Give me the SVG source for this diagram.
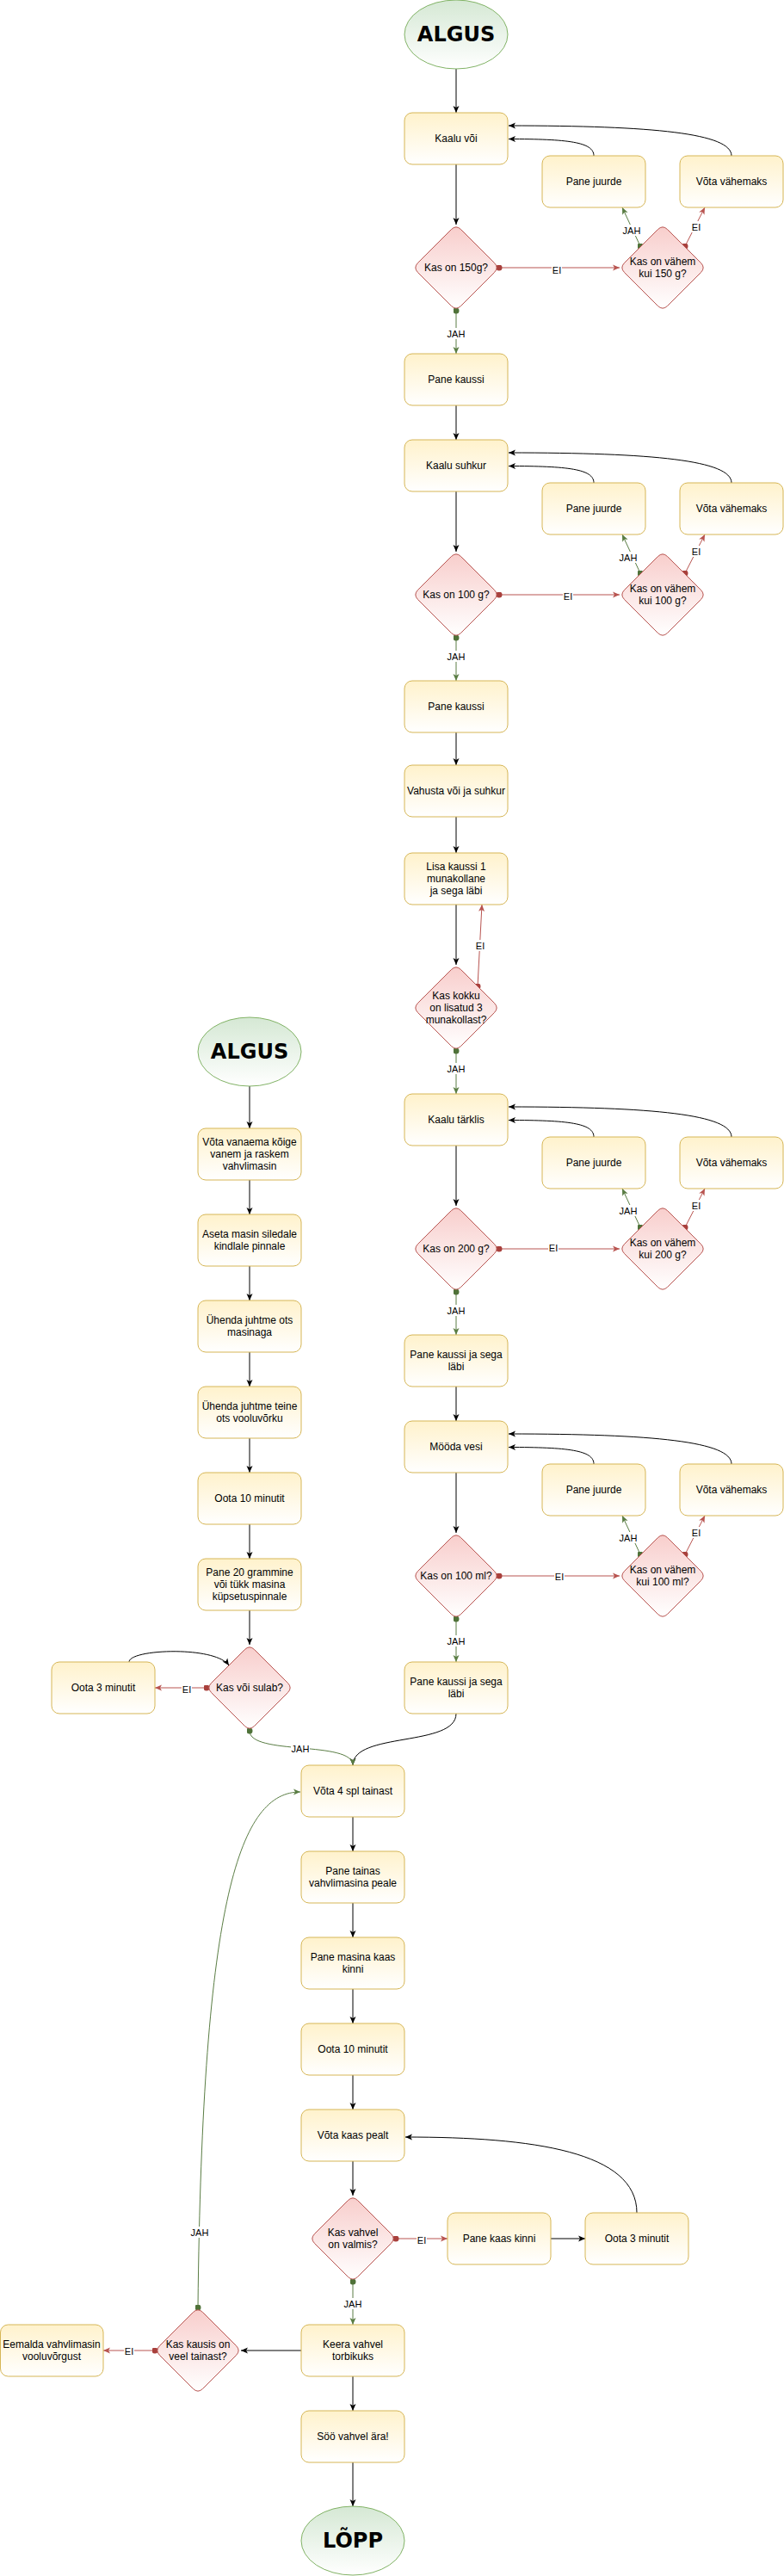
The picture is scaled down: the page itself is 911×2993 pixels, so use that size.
<svg xmlns="http://www.w3.org/2000/svg" xmlns:xlink="http://www.w3.org/1999/xlink" width="911" height="2993" viewBox="0 0 911 2993">
<defs>
<linearGradient id="gy" x1="0" y1="0" x2="0" y2="1"><stop offset="0" stop-color="#fff2cc"/><stop offset="1" stop-color="#ffffff"/></linearGradient>
<linearGradient id="gr" x1="0" y1="0" x2="0" y2="1"><stop offset="0" stop-color="#f8cecc"/><stop offset="1" stop-color="#ffffff"/></linearGradient>
<linearGradient id="gg" x1="0" y1="0" x2="0" y2="1"><stop offset="0" stop-color="#d5e8d4"/><stop offset="1" stop-color="#ffffff"/></linearGradient>
<path id="dia" d="M5.66,-44.34 L44.34,-5.66 Q50,0 44.34,5.66 L5.66,44.34 Q0,50 -5.66,44.34 L-44.34,5.66 Q-50,0 -44.34,-5.66 L-5.66,-44.34 Q0,-50 5.66,-44.34 Z"/>
<marker id="ab" viewBox="0 0 8 8" refX="8" refY="4" markerWidth="8" markerHeight="8" markerUnits="userSpaceOnUse" orient="auto"><path d="M0,0.5 L8,4 L0,7.5 L2,4 Z" fill="#000"/></marker>
<marker id="ag" viewBox="0 0 8 8" refX="8" refY="4" markerWidth="8" markerHeight="8" markerUnits="userSpaceOnUse" orient="auto"><path d="M0,0.5 L8,4 L0,7.5 L2,4 Z" fill="#5a7d44"/></marker>
<marker id="ar" viewBox="0 0 8 8" refX="8" refY="4" markerWidth="8" markerHeight="8" markerUnits="userSpaceOnUse" orient="auto"><path d="M0,0.5 L8,4 L0,7.5 L2,4 Z" fill="#b85450"/></marker>
<marker id="dg" viewBox="0 0 8 8" refX="4" refY="4" markerWidth="7" markerHeight="7" markerUnits="userSpaceOnUse"><circle cx="4" cy="4" r="4" fill="#4f7239"/></marker>
<marker id="dr" viewBox="0 0 8 8" refX="4" refY="4" markerWidth="7" markerHeight="7" markerUnits="userSpaceOnUse"><circle cx="4" cy="4" r="4" fill="#a8403c"/></marker>
</defs>
<style>
.n rect{fill:url(#gy);stroke:#d6b656;stroke-width:1}
.d use{fill:url(#gr);stroke:#b85450;stroke-width:1}
.e ellipse{fill:url(#gg);stroke:#82b366;stroke-width:1}
text{font-family:"Liberation Sans",Arial,sans-serif;font-size:12px;text-anchor:middle;fill:#000}
text.big{font-family:"DejaVu Sans",Verdana,sans-serif;font-size:24px;font-weight:bold}
text.lbl{font-size:11px}
.lb{fill:#ffffff}
#connectors path{fill:none;stroke-width:1}
#connectors .k{stroke:#000;marker-end:url(#ab)}
#connectors .g{stroke:#5a7d44;marker-end:url(#ag);marker-start:url(#dg)}
#connectors .r{stroke:#b85450;marker-end:url(#ar);marker-start:url(#dr)}
</style>
<rect x="0" y="0" width="911" height="2993" fill="#ffffff"/>
<g id="connectors">
<path class="k" d="M530,80 V131"/>
<path class="k" d="M530,191 V261"/>
<path class="k" d="M530,471 V511"/>
<path class="k" d="M530,571 V641"/>
<path class="k" d="M530,851 V889"/>
<path class="k" d="M530,949 V991"/>
<path class="k" d="M530,1051 V1121"/>
<path class="k" d="M530,1331 V1401"/>
<path class="k" d="M530,1611 V1651"/>
<path class="k" d="M530,1711 V1781"/>
<path class="k" d="M290,1262 V1311"/>
<path class="k" d="M290,1371 V1411"/>
<path class="k" d="M290,1471 V1511"/>
<path class="k" d="M290,1571 V1611"/>
<path class="k" d="M290,1671 V1711"/>
<path class="k" d="M290,1771 V1811"/>
<path class="k" d="M290,1871 V1911"/>
<path class="k" d="M410,2111 V2151"/>
<path class="k" d="M410,2211 V2251"/>
<path class="k" d="M410,2311 V2351"/>
<path class="k" d="M410,2411 V2451"/>
<path class="k" d="M410,2511 V2551"/>
<path class="k" d="M640,2601 H680"/>
<path class="k" d="M350,2731 H280"/>
<path class="k" d="M410,2761 V2801"/>
<path class="k" d="M410,2861 V2912"/>
<path class="k" d="M690,181 C690,165 660,161.5 591,161.5"/>
<path class="k" d="M850,181 C850,155 760,146 591,146"/>
<path class="k" d="M690,561 C690,545 660,541.5 591,541.5"/>
<path class="k" d="M850,561 C850,535 760,526 591,526"/>
<path class="k" d="M690,1321 C690,1305 660,1301.5 591,1301.5"/>
<path class="k" d="M850,1321 C850,1295 760,1286 591,1286"/>
<path class="k" d="M690,1701 C690,1685 660,1681.5 591,1681.5"/>
<path class="k" d="M850,1701 C850,1675 760,1666 591,1666"/>
<path class="k" d="M530,1991 C530,2030 410,2012 410,2051"/>
<path class="k" d="M150,1931 C150,1916 250,1912 266,1935"/>
<path class="k" d="M740,2571 C740,2500 620,2483 471,2483"/>
<path class="r" d="M580,311 H720"/>
<path class="r" d="M580,691 H720"/>
<path class="r" d="M580,1451 H720"/>
<path class="r" d="M580,1831 H720"/>
<path class="r" d="M796,286 L819,241"/>
<path class="r" d="M796,666 L819,621"/>
<path class="r" d="M796,1426 L819,1381"/>
<path class="r" d="M796,1806 L819,1761"/>
<path class="r" d="M555,1146 L560,1051"/>
<path class="r" d="M240,1961 H180"/>
<path class="r" d="M460,2601 H520"/>
<path class="r" d="M180,2731 H120"/>
<path class="g" d="M530,361 V411"/>
<path class="g" d="M530,741 V791"/>
<path class="g" d="M530,1221 V1271"/>
<path class="g" d="M530,1501 V1551"/>
<path class="g" d="M530,1881 V1931"/>
<path class="g" d="M744,286 L723,241"/>
<path class="g" d="M744,666 L723,621"/>
<path class="g" d="M744,1426 L723,1381"/>
<path class="g" d="M744,1806 L723,1761"/>
<path class="g" d="M290,2011 C290,2040 410,2022 410,2051"/>
<path class="g" d="M410,2651 V2701"/>
<path class="g" d="M230,2681 C235,2200 280,2082 349,2082"/>
<g id="labels">
<rect class="lb" x="641" y="307" width="12" height="13"/><text class="lbl" x="647" y="318">EI</text>
<rect class="lb" x="654" y="686" width="12" height="13"/><text class="lbl" x="660" y="697">EI</text>
<rect class="lb" x="637" y="1443" width="12" height="13"/><text class="lbl" x="643" y="1454">EI</text>
<rect class="lb" x="644" y="1825" width="12" height="13"/><text class="lbl" x="650" y="1836">EI</text>
<rect class="lb" x="803" y="257" width="12" height="13"/><text class="lbl" x="809" y="268">EI</text>
<rect class="lb" x="803" y="634" width="12" height="13"/><text class="lbl" x="809" y="645">EI</text>
<rect class="lb" x="803" y="1394" width="12" height="13"/><text class="lbl" x="809" y="1405">EI</text>
<rect class="lb" x="803" y="1774" width="12" height="13"/><text class="lbl" x="809" y="1785">EI</text>
<rect class="lb" x="552" y="1092" width="12" height="13"/><text class="lbl" x="558" y="1103">EI</text>
<rect class="lb" x="211" y="1956" width="12" height="13"/><text class="lbl" x="217" y="1967">EI</text>
<rect class="lb" x="484" y="2596" width="12" height="13"/><text class="lbl" x="490" y="2607">EI</text>
<rect class="lb" x="144" y="2725" width="12" height="13"/><text class="lbl" x="150" y="2736">EI</text>
<rect class="lb" x="519" y="381" width="22" height="13"/><text class="lbl" x="530" y="392">JAH</text>
<rect class="lb" x="519" y="756" width="22" height="13"/><text class="lbl" x="530" y="767">JAH</text>
<rect class="lb" x="519" y="1235" width="22" height="13"/><text class="lbl" x="530" y="1246">JAH</text>
<rect class="lb" x="519" y="1516" width="22" height="13"/><text class="lbl" x="530" y="1527">JAH</text>
<rect class="lb" x="519" y="1900" width="22" height="13"/><text class="lbl" x="530" y="1911">JAH</text>
<rect class="lb" x="723" y="261" width="22" height="13"/><text class="lbl" x="734" y="272">JAH</text>
<rect class="lb" x="719" y="641" width="22" height="13"/><text class="lbl" x="730" y="652">JAH</text>
<rect class="lb" x="719" y="1400" width="22" height="13"/><text class="lbl" x="730" y="1411">JAH</text>
<rect class="lb" x="719" y="1780" width="22" height="13"/><text class="lbl" x="730" y="1791">JAH</text>
<rect class="lb" x="338" y="2025" width="22" height="13"/><text class="lbl" x="349" y="2036">JAH</text>
<rect class="lb" x="399" y="2670" width="22" height="13"/><text class="lbl" x="410" y="2681">JAH</text>
<rect class="lb" x="221" y="2587" width="22" height="13"/><text class="lbl" x="232" y="2598">JAH</text>
</g>
</g>
<g id="n-algus-1" class="e"><ellipse cx="530" cy="40" rx="60" ry="40"/><text class="big" x="530" y="48">ALGUS</text></g>
<g id="n-kaalu-voi" class="n"><rect x="470" y="131" width="120" height="60" rx="9"/><text x="530" y="165">Kaalu või</text></g>
<g id="n-pane-juurde-1" class="n"><rect x="630" y="181" width="120" height="60" rx="9"/><text x="690" y="215">Pane juurde</text></g>
<g id="n-vota-vahemaks-1" class="n"><rect x="790" y="181" width="120" height="60" rx="9"/><text x="850" y="215">Võta vähemaks</text></g>
<g id="n-kas-150" class="d"><use xlink:href="#dia" href="#dia" x="530" y="311"/><text x="530" y="315">Kas on 150g?</text></g>
<g id="n-kas-vahem-150" class="d"><use xlink:href="#dia" href="#dia" x="770" y="311"/><text x="770" y="308">Kas on vähem</text><text x="770" y="322">kui 150 g?</text></g>
<g id="n-pane-kaussi-1" class="n"><rect x="470" y="411" width="120" height="60" rx="9"/><text x="530" y="445">Pane kaussi</text></g>
<g id="n-kaalu-suhkur" class="n"><rect x="470" y="511" width="120" height="60" rx="9"/><text x="530" y="545">Kaalu suhkur</text></g>
<g id="n-pane-juurde-2" class="n"><rect x="630" y="561" width="120" height="60" rx="9"/><text x="690" y="595">Pane juurde</text></g>
<g id="n-vota-vahemaks-2" class="n"><rect x="790" y="561" width="120" height="60" rx="9"/><text x="850" y="595">Võta vähemaks</text></g>
<g id="n-kas-100g" class="d"><use xlink:href="#dia" href="#dia" x="530" y="691"/><text x="530" y="695">Kas on 100 g?</text></g>
<g id="n-kas-vahem-100g" class="d"><use xlink:href="#dia" href="#dia" x="770" y="691"/><text x="770" y="688">Kas on vähem</text><text x="770" y="702">kui 100 g?</text></g>
<g id="n-pane-kaussi-2" class="n"><rect x="470" y="791" width="120" height="60" rx="9"/><text x="530" y="825">Pane kaussi</text></g>
<g id="n-vahusta" class="n"><rect x="470" y="889" width="120" height="60" rx="9"/><text x="530" y="923">Vahusta või ja suhkur</text></g>
<g id="n-lisa-kaussi" class="n"><rect x="470" y="991" width="120" height="60" rx="9"/><text x="530" y="1011">Lisa kaussi 1</text><text x="530" y="1025">munakollane</text><text x="530" y="1039">ja sega läbi</text></g>
<g id="n-kas-kokku" class="d"><use xlink:href="#dia" href="#dia" x="530" y="1171"/><text x="530" y="1161">Kas kokku</text><text x="530" y="1175">on lisatud 3</text><text x="530" y="1189">munakollast?</text></g>
<g id="n-kaalu-tarklis" class="n"><rect x="470" y="1271" width="120" height="60" rx="9"/><text x="530" y="1305">Kaalu tärklis</text></g>
<g id="n-pane-juurde-3" class="n"><rect x="630" y="1321" width="120" height="60" rx="9"/><text x="690" y="1355">Pane juurde</text></g>
<g id="n-vota-vahemaks-3" class="n"><rect x="790" y="1321" width="120" height="60" rx="9"/><text x="850" y="1355">Võta vähemaks</text></g>
<g id="n-kas-200g" class="d"><use xlink:href="#dia" href="#dia" x="530" y="1451"/><text x="530" y="1455">Kas on 200 g?</text></g>
<g id="n-kas-vahem-200g" class="d"><use xlink:href="#dia" href="#dia" x="770" y="1451"/><text x="770" y="1448">Kas on vähem</text><text x="770" y="1462">kui 200 g?</text></g>
<g id="n-pane-kaussi-sega-1" class="n"><rect x="470" y="1551" width="120" height="60" rx="9"/><text x="530" y="1578">Pane kaussi ja sega</text><text x="530" y="1592">läbi</text></g>
<g id="n-mooda-vesi" class="n"><rect x="470" y="1651" width="120" height="60" rx="9"/><text x="530" y="1685">Mööda vesi</text></g>
<g id="n-pane-juurde-4" class="n"><rect x="630" y="1701" width="120" height="60" rx="9"/><text x="690" y="1735">Pane juurde</text></g>
<g id="n-vota-vahemaks-4" class="n"><rect x="790" y="1701" width="120" height="60" rx="9"/><text x="850" y="1735">Võta vähemaks</text></g>
<g id="n-kas-100ml" class="d"><use xlink:href="#dia" href="#dia" x="530" y="1831"/><text x="530" y="1835">Kas on 100 ml?</text></g>
<g id="n-kas-vahem-100ml" class="d"><use xlink:href="#dia" href="#dia" x="770" y="1831"/><text x="770" y="1828">Kas on vähem</text><text x="770" y="1842">kui 100 ml?</text></g>
<g id="n-pane-kaussi-sega-2" class="n"><rect x="470" y="1931" width="120" height="60" rx="9"/><text x="530" y="1958">Pane kaussi ja sega</text><text x="530" y="1972">läbi</text></g>
<g id="n-algus-2" class="e"><ellipse cx="290" cy="1222" rx="60" ry="40"/><text class="big" x="290" y="1230">ALGUS</text></g>
<g id="n-vota-vanaema" class="n"><rect x="230" y="1311" width="120" height="60" rx="9"/><text x="290" y="1331">Võta vanaema kõige</text><text x="290" y="1345">vanem ja raskem</text><text x="290" y="1359">vahvlimasin</text></g>
<g id="n-aseta-masin" class="n"><rect x="230" y="1411" width="120" height="60" rx="9"/><text x="290" y="1438">Aseta masin siledale</text><text x="290" y="1452">kindlale pinnale</text></g>
<g id="n-uhenda-1" class="n"><rect x="230" y="1511" width="120" height="60" rx="9"/><text x="290" y="1538">Ühenda juhtme ots</text><text x="290" y="1552">masinaga</text></g>
<g id="n-uhenda-2" class="n"><rect x="230" y="1611" width="120" height="60" rx="9"/><text x="290" y="1638">Ühenda juhtme teine</text><text x="290" y="1652">ots vooluvõrku</text></g>
<g id="n-oota-10-1" class="n"><rect x="230" y="1711" width="120" height="60" rx="9"/><text x="290" y="1745">Oota 10 minutit</text></g>
<g id="n-pane-20" class="n"><rect x="230" y="1811" width="120" height="60" rx="9"/><text x="290" y="1831">Pane 20 grammine</text><text x="290" y="1845">või tükk masina</text><text x="290" y="1859">küpsetuspinnale</text></g>
<g id="n-kas-sulab" class="d"><use xlink:href="#dia" href="#dia" x="290" y="1961"/><text x="290" y="1965">Kas või sulab?</text></g>
<g id="n-oota-3-1" class="n"><rect x="60" y="1931" width="120" height="60" rx="9"/><text x="120" y="1965">Oota 3 minutit</text></g>
<g id="n-vota-4-spl" class="n"><rect x="350" y="2051" width="120" height="60" rx="9"/><text x="410" y="2085">Võta 4 spl tainast</text></g>
<g id="n-pane-tainas" class="n"><rect x="350" y="2151" width="120" height="60" rx="9"/><text x="410" y="2178">Pane tainas</text><text x="410" y="2192">vahvlimasina peale</text></g>
<g id="n-pane-masina-kaas" class="n"><rect x="350" y="2251" width="120" height="60" rx="9"/><text x="410" y="2278">Pane masina kaas</text><text x="410" y="2292">kinni</text></g>
<g id="n-oota-10-2" class="n"><rect x="350" y="2351" width="120" height="60" rx="9"/><text x="410" y="2385">Oota 10 minutit</text></g>
<g id="n-vota-kaas" class="n"><rect x="350" y="2451" width="120" height="60" rx="9"/><text x="410" y="2485">Võta kaas pealt</text></g>
<g id="n-kas-valmis" class="d"><use xlink:href="#dia" href="#dia" x="410" y="2601"/><text x="410" y="2598">Kas vahvel</text><text x="410" y="2612">on valmis?</text></g>
<g id="n-pane-kaas-kinni" class="n"><rect x="520" y="2571" width="120" height="60" rx="9"/><text x="580" y="2605">Pane kaas kinni</text></g>
<g id="n-oota-3-2" class="n"><rect x="680" y="2571" width="120" height="60" rx="9"/><text x="740" y="2605">Oota 3 minutit</text></g>
<g id="n-keera" class="n"><rect x="350" y="2701" width="120" height="60" rx="9"/><text x="410" y="2728">Keera vahvel</text><text x="410" y="2742">torbikuks</text></g>
<g id="n-kas-kausis" class="d"><use xlink:href="#dia" href="#dia" x="230" y="2731"/><text x="230" y="2728">Kas kausis on</text><text x="230" y="2742">veel tainast?</text></g>
<g id="n-eemalda" class="n"><rect x="0.5" y="2701" width="119.5" height="60" rx="9"/><text x="60" y="2728">Eemalda vahvlimasin</text><text x="60" y="2742">vooluvõrgust</text></g>
<g id="n-soo" class="n"><rect x="350" y="2801" width="120" height="60" rx="9"/><text x="410" y="2835">Söö vahvel ära!</text></g>
<g id="n-lopp" class="e"><ellipse cx="410" cy="2952" rx="60" ry="40"/><text class="big" x="410" y="2960">LÕPP</text></g>
</svg>
